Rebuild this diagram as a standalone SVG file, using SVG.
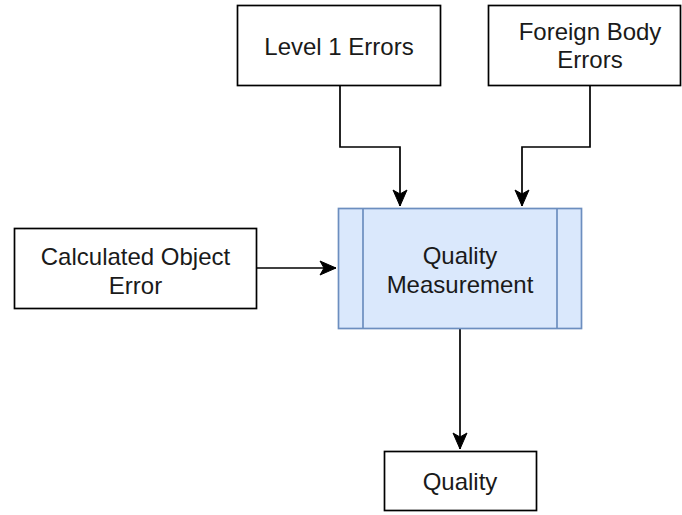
<svg xmlns="http://www.w3.org/2000/svg" width="682" height="515" viewBox="0 0 682 515">
<style>
.box{fill:#ffffff;stroke:#000000;stroke-width:1.7}
.proc{fill:#dae8fc;stroke:#6c8ebf;stroke-width:1.7}
.lbl{font-family:"Liberation Sans",Arial,sans-serif;font-size:24px;fill:#1a1a1a;text-anchor:middle}
.edge{fill:none;stroke:#000000;stroke-width:1.7}
</style>
<defs>
<marker id="arr" markerUnits="userSpaceOnUse" markerWidth="20" markerHeight="20" viewBox="0 0 20 20" refX="18" refY="10" orient="auto">
<path d="M2 3 L18 10 L2 17 L6 10 Z" fill="#000000" stroke="#000000" stroke-width="1"/>
</marker>
</defs>
<g id="connectors">
<path class="edge" d="M340 86 V147 H400 V206" marker-end="url(#arr)"/>
<path class="edge" d="M590 86 V147 H522 V206" marker-end="url(#arr)"/>
<path class="edge" d="M257 268 H336" marker-end="url(#arr)"/>
<path class="edge" d="M460 329 V449" marker-end="url(#arr)"/>
</g>
<g id="level1">
<rect class="box" x="237.5" y="5.5" width="203" height="80"/>
<text class="lbl" x="339" y="55">Level 1 Errors</text>
</g>
<g id="foreign">
<rect class="box" x="488.5" y="5.5" width="192" height="80"/>
<text class="lbl" x="590" y="40">Foreign Body</text>
<text class="lbl" x="590" y="68">Errors</text>
</g>
<g id="calc">
<rect class="box" x="14.5" y="228.5" width="242" height="80"/>
<text class="lbl" x="135.5" y="265">Calculated Object</text>
<text class="lbl" x="135.5" y="294">Error</text>
</g>
<g id="qm">
<rect class="proc" x="338.5" y="208.5" width="243" height="120"/>
<line class="proc" x1="363" y1="208.5" x2="363" y2="328.5"/>
<line class="proc" x1="557" y1="208.5" x2="557" y2="328.5"/>
<text class="lbl" x="460" y="264">Quality</text>
<text class="lbl" x="460" y="293">Measurement</text>
</g>
<g id="quality">
<rect class="box" x="384.5" y="451.5" width="152" height="59"/>
<text class="lbl" x="460" y="490">Quality</text>
</g>
</svg>
